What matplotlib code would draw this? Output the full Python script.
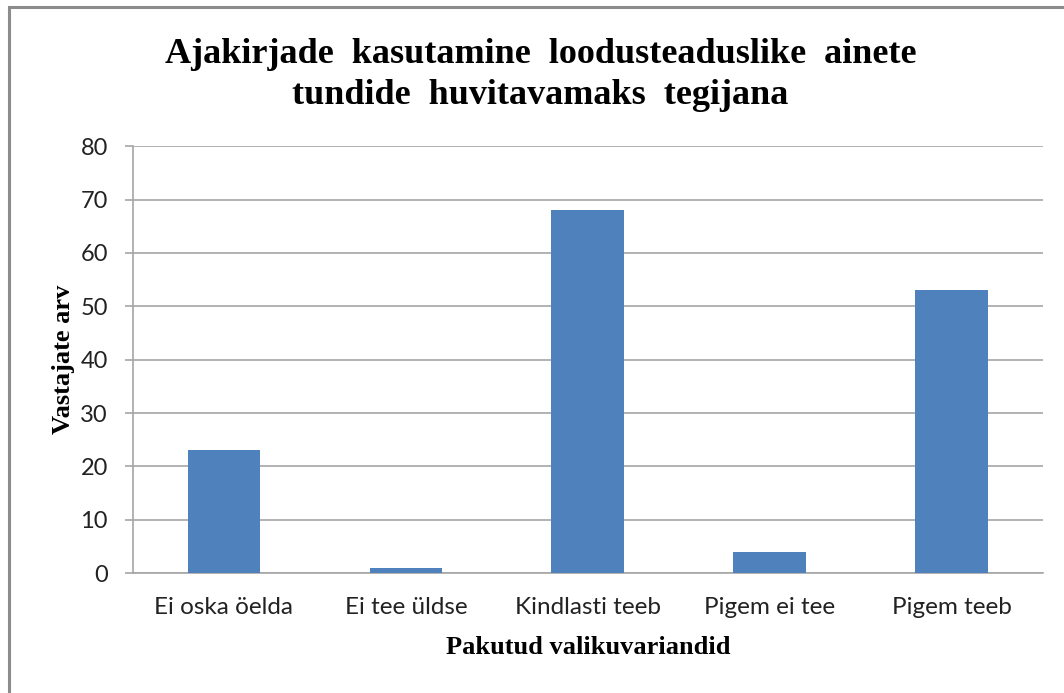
import matplotlib.pyplot as plt
from matplotlib.patches import Rectangle

# data
categories = ['Ei oska öelda', 'Ei tee üldse', 'Kindlasti teeb', 'Pigem ei tee', 'Pigem teeb']
counts = [23, 1, 68, 4, 53]
y_ticks = [0, 10, 20, 30, 40, 50, 60, 70, 80]

title = 'Ajakirjade  kasutamine  loodusteaduslike  ainete\ntundide  huvitavamaks  tegijana'
x_label = 'Pakutud valikuvariandid'
y_label = 'Vastajate arv'

bar_color = '#4F81BD'
grid_color = '#a6a6a6'
tick_font = 'Lato'
serif_font = 'Liberation Serif'

fig = plt.figure(figsize=(10.64, 6.93), dpi=100)
ax = fig.add_axes([0.125, 0.173, 0.855, 0.616])

x = range(len(categories))
ax.bar(x, counts, width=0.4, color=bar_color, zorder=3)

ax.set_xlim(-0.5, len(categories) - 0.5)
ax.set_ylim(0, 80)
ax.set_yticks(y_ticks)
ax.set_xticks(list(x))
ax.set_xticklabels(categories, fontfamily=tick_font, fontsize=17.5, color='#222222')
for lbl in ax.get_yticklabels():
    lbl.set_fontfamily(tick_font)
    lbl.set_fontsize(17)
    lbl.set_color('#222222')

ax.yaxis.grid(True, color=grid_color, linewidth=1.2, zorder=0)
ax.tick_params(axis='y', length=6, width=1.2, color=grid_color, pad=12)
ax.tick_params(axis='x', length=0, pad=17)

for side in ['top', 'right']:
    ax.spines[side].set_visible(False)
for side in ['left', 'bottom']:
    ax.spines[side].set_color(grid_color)
    ax.spines[side].set_linewidth(1.2)

ax.set_xlabel(x_label, fontfamily=serif_font, fontweight='bold', fontsize=19, labelpad=13)
ax.set_ylabel(y_label, fontfamily=serif_font, fontweight='bold', fontsize=19, labelpad=4)

fig.text(0.508, 0.892, title, ha='center', va='center', fontfamily=serif_font,
         fontweight='bold', fontsize=26, linespacing=1.3)

# outer chart frame (runs off the right/bottom edges like the screenshot)
frame_left = 9 / 1064
frame_top = 1 - 7 / 693
fig.patches.append(Rectangle((frame_left, -0.1), 1.2, frame_top + 0.1,
                             transform=fig.transFigure, fill=False,
                             edgecolor='#8c8c8c', linewidth=2.2, figure=fig))

fig.savefig('out.png', dpi=100)
